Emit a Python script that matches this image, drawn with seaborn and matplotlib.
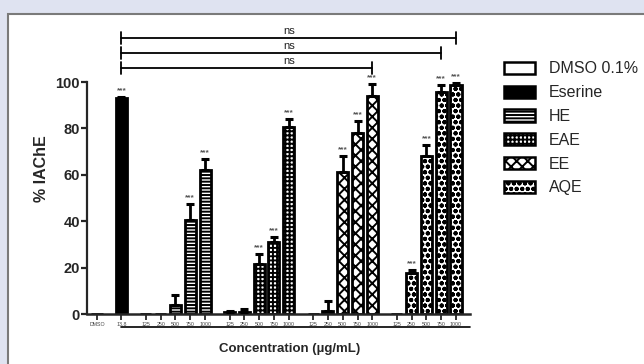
import numpy as np
import pandas as pd
import matplotlib
matplotlib.use("Agg")
import matplotlib.pyplot as plt
from matplotlib.patches import Patch, Rectangle
import seaborn as sns

# ── data ─────────────────────────────────────────────────────────────────────
groups = ["DMSO 0.1%", "Eserine", "HE", "EAE", "EE", "AQE"]
conc = ["125", "250", "500", "750", "1000"]
labels = {
    "DMSO 0.1%": ["DMSO"],
    "Eserine": ["13.8"],
    "HE": conc, "EAE": conc, "EE": conc, "AQE": conc,
}
means = {
    "DMSO 0.1%": [0.0],
    "Eserine": [93.0],
    "HE": [0.0, 0.0, 4.0, 40.5, 62.0],
    "EAE": [1.0, 1.0, 21.5, 31.0, 80.5],
    "EE": [0.0, 1.5, 61.0, 78.0, 94.0],
    "AQE": [0.0, 17.5, 68.0, 95.5, 98.5],
}
errs = {
    "DMSO 0.1%": [0.0],
    "Eserine": [0.5],
    "HE": [0.0, 0.0, 4.0, 7.0, 5.0],
    "EAE": [0.5, 1.0, 4.5, 2.0, 3.5],
    "EE": [0.0, 4.0, 7.0, 5.0, 5.0],
    "AQE": [0.0, 1.5, 5.0, 3.0, 1.0],
}
stars = {
    "DMSO 0.1%": [False],
    "Eserine": [True],
    "HE": [False, False, False, True, True],
    "EAE": [False, False, True, True, True],
    "EE": [False, False, True, True, True],
    "AQE": [False, True, True, True, True],
}
# (from bar, to bar, height) for the "ns" brackets
ns_pairs = [
    (("Eserine", "13.8"), ("EE", "1000"), 106),
    (("Eserine", "13.8"), ("AQE", "750"), 112.5),
    (("Eserine", "13.8"), ("AQE", "1000"), 119),
]

hatches = {"DMSO 0.1%": "", "Eserine": "", "HE": "-----",
           "EAE": "++++", "EE": "xxx", "AQE": "ooo"}
fills = {"DMSO 0.1%": "white", "Eserine": "black", "HE": "white",
         "EAE": "white", "EE": "white", "AQE": "white"}

# ── table with bar positions (gap between groups) ────────────────────────────
GAP = 1.65
rows = []
cursor = 0.0
for g in groups:
    for lab, m, e, s in zip(labels[g], means[g], errs[g], stars[g]):
        rows.append(dict(group=g, label=lab, pos=round(cursor, 3), mean=m, err=e, star=s))
        cursor += 1
    cursor += GAP - 1
df = pd.DataFrame(rows)
pos_of = {(r.group, r.label): r.pos for r in df.itertuples()}

# ── style ────────────────────────────────────────────────────────────────────
sns.set_style("ticks")
plt.rcParams["font.family"] = ["Liberation Sans", "DejaVu Sans"]
plt.rcParams["hatch.linewidth"] = 1.4
plt.rcParams["hatch.color"] = "black"

fig = plt.figure(figsize=(6.44, 3.64), dpi=100)
fig.patch.set_facecolor("#dfe3f1")
fig.patches.append(Rectangle((8 / 644, -0.1), 1.2, 1 - 14 / 364 + 0.1,
                             transform=fig.transFigure, facecolor="white",
                             edgecolor="#7a7a7a", linewidth=1.5, zorder=-10))

W, H = 644, 364
x0_px, x1_px = 87, 470
y0_px, ytop_px = 314, 24
ax = fig.add_axes([x0_px / W, (H - y0_px) / H, (x1_px - x0_px) / W, (y0_px - ytop_px) / H])
ax.patch.set_alpha(0)

sns.barplot(data=df, x="pos", y="mean", hue="group", hue_order=groups,
            palette=fills, native_scale=True, dodge=False, errorbar=None,
            width=0.75, edgecolor="black", linewidth=2.0, legend=False, ax=ax)

for g, cont in zip(groups, ax.containers):
    for bar in cont:
        bar.set_hatch(hatches[g])

eb = df[df["err"] > 0]
ax.errorbar(eb["pos"], eb["mean"], yerr=[np.zeros(len(eb)), eb["err"]],
            fmt="none", ecolor="black", elinewidth=2, capsize=3.2, capthick=2.2, zorder=3)

for r in df[df["star"]].itertuples():
    ax.text(r.pos, r.mean + r.err + 1.2, "***", ha="center", va="bottom",
            fontsize=6, color="#555555", fontweight="bold")

# "ns" brackets, labels stacked on a common centre
ns_x = np.mean([pos_of[ns_pairs[-1][0]], pos_of[ns_pairs[-1][1]]])
for (a, b, h) in ns_pairs:
    xa, xb = pos_of[a], pos_of[b]
    ax.plot([xa, xb], [h, h], color="black", lw=1.3, clip_on=False)
    ax.plot([xa, xa], [h - 2.5, h + 2.5], color="black", lw=1.3, clip_on=False)
    ax.plot([xb, xb], [h - 2.5, h + 2.5], color="black", lw=1.3, clip_on=False)
    ax.text(ns_x, h + 0.8, "ns", ha="center", va="bottom", fontsize=8, color="#222222")

# axes
slot_px = 14.75
ax.set_xlim(-(97 - x0_px) / slot_px, df["pos"].max() + (x1_px - 456) / slot_px)
ax.set_ylim(0, (y0_px - ytop_px) / 2.32)
ax.set_xticks(df["pos"])
ax.set_xticklabels(df["label"], fontsize=3.8, color="#444444")
ax.set_yticks([0, 20, 40, 60, 80, 100])
ax.set_yticklabels(["0", "20", "40", "60", "80", "100"], fontsize=10.5, fontweight="bold")
ax.tick_params(axis="y", length=4, width=1.6, pad=1)
ax.tick_params(axis="x", length=4, width=1.3, pad=2)
sns.despine(ax=ax, top=True, right=True)
ax.spines["left"].set_bounds(0, 100)
ax.spines["left"].set_linewidth(1.6)
ax.spines["bottom"].set_linewidth(1.8)
ax.set_xlabel("")
ax.set_ylabel("% IAChE", fontsize=11.5, fontweight="bold", labelpad=5)

# underline below the concentration ticks + axis title
ax.plot([pos_of[("Eserine", "13.8")], ax.get_xlim()[1]], [-13 / 2.32] * 2,
        color="black", lw=1.2, clip_on=False)
fig.text(290 / W, 1 - 349 / H, "Concentration (µg/mL)", ha="center", va="center",
         fontsize=9.5, fontweight="bold")

handles = [Patch(facecolor=fills[g], edgecolor="black", linewidth=1.8, hatch=hatches[g], label=g)
           for g in groups]
fig.legend(handles=handles, loc="upper left", bbox_to_anchor=(490 / W, 1 - 47 / H),
           frameon=False, fontsize=11.5, handlelength=1.9, handleheight=0.8,
           labelspacing=0.55, handletextpad=0.9)

fig.savefig("out.png", dpi=100, facecolor=fig.get_facecolor())
